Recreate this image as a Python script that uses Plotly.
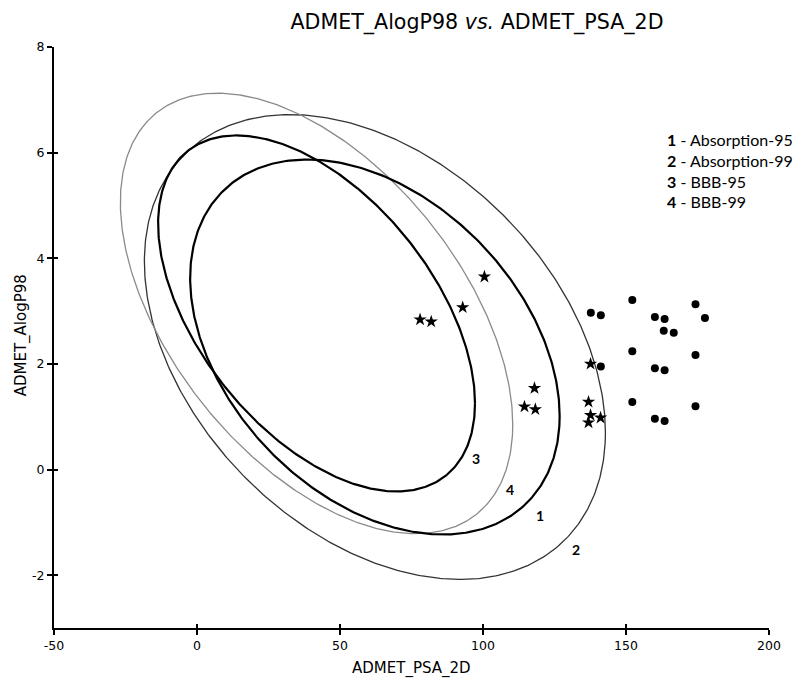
import numpy as np
import plotly.graph_objects as go

# Compounds inside / near the absorption & BBB regions (stars) and outside them (dots)
psa_star = [100.5, 92.9, 78.0, 81.9, 118.0, 114.5, 118.3, 137.6, 136.9, 137.6, 141.1, 136.9]
logp_star = [3.65, 3.07, 2.84, 2.80, 1.54, 1.19, 1.14, 2.00, 1.28, 1.03, 0.98, 0.89]
psa_dot = [137.7, 141.2, 152.2, 174.3, 160.1, 163.5, 177.6, 163.2, 166.7, 152.2, 174.3, 141.2,
           160.1, 163.5, 152.2, 174.3, 160.1, 163.5]
logp_dot = [2.97, 2.92, 3.21, 3.13, 2.89, 2.85, 2.87, 2.63, 2.59, 2.24, 2.17, 1.95, 1.92, 1.88,
            1.28, 1.20, 0.96, 0.92]

# Confidence ellipses: id, name, centre PSA, centre AlogP, half-width PSA, half-height AlogP, correlation
ellipse_ids = ["2", "4", "1", "3"]
ellipse_names = ["Absorption-99", "BBB-99", "Absorption-95", "BBB-95"]
ellipse_cx = [62.2, 41.8, 62.2, 41.8]
ellipse_cy = [2.32, 2.955, 2.32, 2.955]
ellipse_sx = [80.6, 68.6, 64.6, 55.4]
ellipse_sy = [4.40, 4.17, 3.55, 3.37]
ellipse_r = [-0.368, -0.505, -0.368, -0.505]

# Where each ellipse number is written
label_ids = ["3", "4", "1", "2"]
label_x = [97.6, 109.5, 120.0, 132.4]
label_y = [0.20, -0.37, -0.87, -1.51]

legend_ids = ["1", "2", "3", "4"]
legend_names = ["Absorption-95", "Absorption-99", "BBB-95", "BBB-99"]
legend_y = [6.24, 5.86, 5.46, 5.08]

x_ticks = [-50, 0, 50, 100, 150, 200]
y_ticks = [-2, 0, 2, 4, 6, 8]

line_style = {"1": ("black", 2.2), "2": ("#333333", 1.3), "3": ("black", 2.2), "4": ("#8a8a8a", 1.3)}

fig = go.Figure()
t = np.linspace(0, 2 * np.pi, 500)
for eid, name, cx, cy, sx, sy, r in zip(ellipse_ids, ellipse_names, ellipse_cx, ellipse_cy,
                                        ellipse_sx, ellipse_sy, ellipse_r):
    x = cx + sx * np.cos(t)
    y = cy + sy * (r * np.cos(t) + np.sqrt(1 - r * r) * np.sin(t))
    col, w = line_style[eid]
    fig.add_trace(go.Scatter(x=x, y=y, mode="lines", name=name, line=dict(color=col, width=w),
                             hoverinfo="skip", showlegend=False))

fig.add_trace(go.Scatter(x=psa_star, y=logp_star, mode="markers",
                         marker=dict(symbol="star", size=10, color="black", line=dict(width=0)),
                         showlegend=False))
fig.add_trace(go.Scatter(x=psa_dot, y=logp_dot, mode="markers",
                         marker=dict(symbol="circle", size=8, color="black", line=dict(width=0)),
                         showlegend=False))

# invisible companion axes: give the ticks a short inner half so they cross the axis lines
fig.add_trace(go.Scatter(x=[None], y=[None], xaxis="x2", yaxis="y2", showlegend=False, hoverinfo="skip"))

for lid, lx, ly in zip(label_ids, label_x, label_y):
    fig.add_annotation(x=lx, y=ly, text=f"<b>{lid}</b>", showarrow=False,
                       font=dict(family="Lato", size=14, color="black"))

for lid, lname, ly in zip(legend_ids, legend_names, legend_y):
    fig.add_annotation(x=163.6, y=ly, xanchor="left", yanchor="middle", showarrow=False,
                       text=f"<b>{lid}</b> - {lname}",
                       font=dict(family="Lato", size=16, color="black"))

font_main = "DejaVu Sans"
fig.add_annotation(xref="paper", yref="paper", x=0.5, y=-0.069, yanchor="middle", showarrow=False,
                   text="ADMET_PSA_2D", font=dict(family=font_main, size=15, color="black"))
fig.add_annotation(xref="paper", yref="paper", x=-0.046, y=0.504, xanchor="center", yanchor="middle",
                   textangle=-90, showarrow=False, text="ADMET_AlogP98",
                   font=dict(family=font_main, size=15, color="black"))

tick_font = dict(family=font_main, size=12.5, color="black")
fig.update_layout(
    width=799, height=681, margin=dict(l=54, r=30, t=47, b=53),
    paper_bgcolor="white", plot_bgcolor="white", showlegend=False,
    title=dict(text="ADMET_AlogP98 <i>vs.</i> ADMET_PSA_2D", x=0.597, xanchor="center",
               y=0.968, yanchor="middle", font=dict(family=font_main, size=20.6, color="black")),
    xaxis=dict(range=[-50, 200], showgrid=False, zeroline=False, showline=True, linecolor="black",
               linewidth=2, ticks="outside", ticklen=5, tickwidth=1.5, tickcolor="black",
               tickvals=x_ticks, ticktext=[str(v) for v in x_ticks], tickfont=tick_font),
    yaxis=dict(range=[-3, 8], showgrid=False, zeroline=False, showline=True, linecolor="black",
               linewidth=2, ticks="outside", ticklen=5, tickwidth=1.5, tickcolor="black",
               tickvals=y_ticks, ticktext=[str(v) for v in y_ticks], tickfont=tick_font),
    xaxis2=dict(overlaying="x", anchor="y2", side="bottom", range=[-50, 200], tickvals=x_ticks,
                ticks="inside", ticklen=4, tickwidth=1.5, tickcolor="black", showticklabels=False,
                showgrid=False, zeroline=False, showline=False),
    yaxis2=dict(overlaying="y", anchor="x2", side="left", range=[-3, 8], tickvals=y_ticks,
                ticks="inside", ticklen=4, tickwidth=1.5, tickcolor="black", showticklabels=False,
                showgrid=False, zeroline=False, showline=False),
)
fig.write_html("out.html")
